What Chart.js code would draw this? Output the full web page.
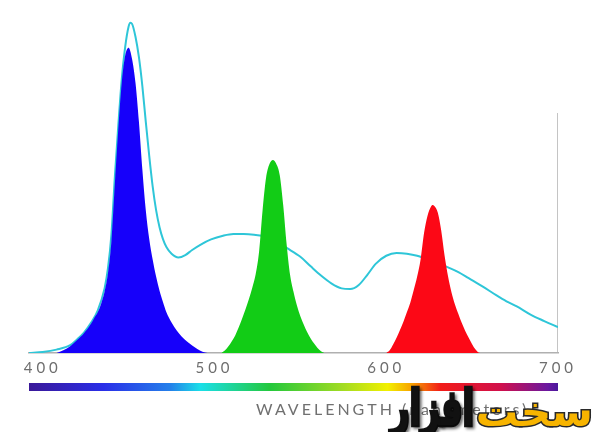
<!DOCTYPE html>
<html>
<head>
<meta charset="utf-8">
<script src="https://cdn.jsdelivr.net/npm/chart.js@4.4.1/dist/chart.umd.min.js"></script>
<style>
  html, body { margin: 0; padding: 0; background: #fff; }
  #wrap { width: 600px; height: 432px; }
</style>
</head>
<body>
<div id="wrap"><canvas id="spectrum"></canvas></div>
<script>
// tick labels on the wavelength axis
var tickValues = [400, 500, 600, 700];

// blue LED peak
var blueNm  = [408,412,416,420,424,428,430,432,434,436,438,440,442,444,446,448,450,452,454,456,458,460,462,464,466,468,470,472,475,478,481,484,487,490,493,496];
var blueLed = [0,0.8,2,3.8,5.8,8.5,10.3,12,14.5,18,23.5,33,50,66,79.5,87.5,89.8,86.5,79.5,68,54,42,33.5,27.5,22.5,18.3,15,12,9,6.6,4.8,3.4,2.2,1.2,0.4,0];

// green LED peak
var greenNm  = [504,506,508,510,512,514,516,518,520,522,524,526,528,530,532,534,536,538,540,542,544,546,548,550,552,554,556,558,560,562,564];
var greenLed = [0,0.7,1.9,3.4,5.1,7.4,10,12.8,15.8,19.2,23.2,30,42,51.5,55.6,56.8,55.6,52.3,43.5,32,23,18,14,10.8,8.3,6.1,4.3,2.8,1.5,0.5,0];

// red LED peak
var redNm  = [600,602,604,606,608,610,612,614,616,618,620,622,624,626,627,628,630,632,634,636,638,640,642,644,646,648,650,652,654,656];
var redLed = [0,0.8,2.5,4.5,6.8,9.2,12,14.8,18.5,22.5,27.5,35.3,40.3,43,43.5,43.2,41.3,36,28.5,22.5,17.8,14.3,11.5,8.8,6.5,4.5,2.6,1,0.1,0];

// broadband (white LED) curve
var whiteNm  = [392,400,408,416,420,424,428,432,436,438,440,442,444,446,448,450,451,452,454,456,458,460,462,464,466,468,470,472,475,479,483,487,492,498,505,511,517,523,530,536,542,550,556,562,568,574,579,584,589,594,600,606,612,618,624,630,636,642,648,656,664,670,676,684,692,700];
var whiteVal = [0,0.3,1,2.3,4,6,8.8,12.5,19,25,35,52,67,80.5,90,96,97.1,96.8,93,87,78.5,68,58,49,42,37,33.5,31.2,29.2,28.1,28.8,30.3,31.9,33.4,34.5,35,35,34.8,34.2,32.8,30.9,28.3,25.5,22.8,20.5,19,18.8,20,23,26.3,28.6,29.4,29.2,28.6,27.5,26.5,25.2,23.8,22,19.6,17,15.2,13.7,11.3,9.4,7.6];

// right hand frame line
var frameNm = [700, 700];
var frameVal = [0, 70.6];

function pts(xs, ys) {
  return xs.map(function (x, i) { return { x: x, y: ys[i] }; });
}

function peak(label, xs, ys, color) {
  return {
    label: label,
    data: pts(xs, ys),
    borderColor: color,
    backgroundColor: color,
    borderWidth: 0,
    fill: 'origin',
    pointRadius: 0,
    cubicInterpolationMode: 'monotone'
  };
}

// spectrum bar, axis title and watermark under the chart
var extras = {
  id: 'extras',
  beforeDraw: function (chart) {
    chart.ctx.letterSpacing = '4px';
  },
  afterDraw: function (chart) {
    var ctx = chart.ctx;
    var a = chart.chartArea;
    var xs = chart.scales.x;
    var left = xs.getPixelForValue(xs.min), right = xs.getPixelForValue(xs.max);
    ctx.save();
    ctx.letterSpacing = '0px';
    var g = ctx.createLinearGradient(left, 0, right, 0);
    g.addColorStop(0, '#3a1898');
    g.addColorStop(0.14, '#2a2ee8');
    g.addColorStop(0.267, '#2480ea');
    g.addColorStop(0.324, '#1adfe8');
    g.addColorStop(0.456, '#24c83c');
    g.addColorStop(0.595, '#a4dc22');
    g.addColorStop(0.678, '#f2f000');
    g.addColorStop(0.722, '#f8a400');
    g.addColorStop(0.778, '#f21c18');
    g.addColorStop(0.892, '#d0104c');
    g.addColorStop(0.981, '#6a18a0');
    g.addColorStop(1, '#4a189c');
    ctx.fillStyle = g;
    ctx.fillRect(left, a.bottom + 30, right - left, 8);

    ctx.fillStyle = '#707070';
    ctx.font = '16px Lato';
    ctx.letterSpacing = '3px';
    ctx.textAlign = 'left';
    ctx.textBaseline = 'alphabetic';
    ctx.fillText('WAVELENGTH (nanometers)', a.left + 227, a.bottom + 62);

    // watermark
    ctx.letterSpacing = '0px';
    ctx.direction = 'rtl';
    ctx.textAlign = 'right';
    ctx.font = 'bold 40px "DejaVu Sans"';
    ctx.save();
    ctx.translate(474, 425);
    ctx.scale(0.82, 1.22);
    ctx.shadowColor = 'rgba(0,0,0,0.45)';
    ctx.shadowBlur = 3;
    ctx.shadowOffsetX = 2;
    ctx.shadowOffsetY = 2;
    ctx.fillStyle = '#111';
    ctx.strokeStyle = '#111';
    ctx.lineWidth = 3.5;
    ctx.strokeText('افزار', 0, 0);
    ctx.fillText('افزار', 0, 0);
    ctx.restore();

    ctx.save();
    ctx.translate(593, 426);
    ctx.scale(1.06, 1.02);
    ctx.lineWidth = 3;
    ctx.strokeStyle = '#2a2a2a';
    ctx.strokeText('سخت', 0, 0);
    ctx.fillStyle = '#f7b400';
    ctx.fillText('سخت', 0, 0);
    ctx.restore();
    ctx.restore();
  }
};

new Chart(document.getElementById('spectrum'), {
  type: 'line',
  data: {
    datasets: [
      peak('Blue', blueNm, blueLed, 'rgb(22,0,250)'),
      peak('Green', greenNm, greenLed, 'rgb(18,204,22)'),
      peak('Red', redNm, redLed, 'rgb(252,8,22)'),
      {
        label: 'White LED',
        data: pts(whiteNm, whiteVal),
        borderColor: '#2ec6d8',
        borderWidth: 2,
        fill: false,
        pointRadius: 0,
        cubicInterpolationMode: 'monotone'
      },
      {
        label: 'frame',
        data: pts(frameNm, frameVal),
        borderColor: '#b0b0b0',
        borderWidth: 1.5,
        fill: false,
        pointRadius: 0
      }
    ]
  },
  options: {
    responsive: true,
    maintainAspectRatio: false,
    animation: false,
    layout: { padding: { top: 13, left: 29, right: 42, bottom: 0 } },
    plugins: {
      legend: { display: false },
      tooltip: { enabled: false }
    },
    scales: {
      x: {
        type: 'linear',
        min: 392,
        max: 700,
        afterFit: function (scale) { scale.height = 79; },
        afterBuildTicks: function (scale) {
          scale.ticks = tickValues.map(function (v) { return { value: v }; });
        },
        grid: { display: false, drawTicks: false },
        border: { display: true, color: '#b0b0b0', width: 1.5 },
        ticks: {
          autoSkip: false,
          maxRotation: 0,
          padding: 6,
          color: '#6e6e6e',
          font: { family: 'Lato', size: 15 }
        }
      },
      y: {
        display: false,
        min: 0,
        max: 100
      }
    }
  },
  plugins: [extras]
});
</script>
</body>
</html>
